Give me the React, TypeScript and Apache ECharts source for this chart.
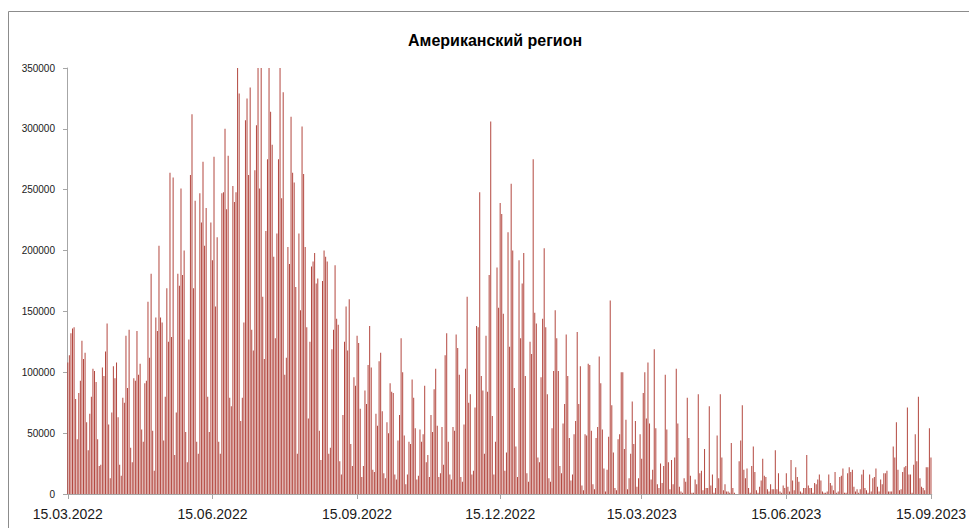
import React, { useEffect, useRef } from "react";
import * as echarts from "echarts";

const TITLE = "Американский регион";
const START_DATE = "2022-03-15";
const Y_TICKS = [0, 50000, 100000, 150000, 200000, 250000, 300000, 350000];
const TICK_LABELS = ["15.03.2022", "15.06.2022", "15.09.2022", "15.12.2022", "15.03.2023", "15.06.2023", "15.09.2023"];

// daily values, in thousands
const MAR_MAY_2022 = [
  108, 114, 132, 136, 137, 78, 45, 83, 93, 126, 111, 116, 59, 36, 66, 80, 103, 101, 92, 45, 23, 24, 104, 97, 117, 140, 57, 13, 67, 105,
  95, 108, 63, 24, 15, 79, 75, 130, 87, 135, 38, 26, 95, 93, 134, 98, 107, 53, 43, 91, 93, 158, 112, 181, 52, 19, 145, 134, 204, 145,
  141, 44, 80, 169, 125,
];
const MAY_JUL_2022 = [
  264, 129, 260, 32, 67, 181, 171, 251, 180, 200, 51, 26, 127, 262, 312, 169, 241, 43, 33, 247, 223, 273, 204, 235, 80, 51, 223, 192, 277, 154,
  211, 43, 33, 247, 248, 300, 234, 278, 79, 72, 253, 240, 248, 350, 329, 60, 79, 141, 307, 325, 262, 334, 135, 118, 266, 303, 350, 251, 350, 162,
  111, 216, 275, 350, 314, 287, 195,
];
const JUL_SEP_2022 = [
  128, 214, 275, 350, 243, 330, 98, 112, 203, 189, 310, 264, 256, 170, 33, 214, 151, 302, 263, 203, 137, 62, 125, 187, 191, 198, 173, 177, 52, 28,
  175, 200, 195, 191, 33, 38, 119, 135, 188, 144, 139, 27, 16, 65, 125, 154, 118, 160, 41, 23, 96, 89, 130, 124, 70, 14, 23, 85, 74, 106,
  138, 104, 20, 18, 66, 56, 109,
];
const SEP_NOV_2022 = [
  116, 68, 17, 13, 59, 50, 91, 84, 83, 16, 12, 44, 65, 128, 100, 48, 8, 16, 43, 41, 94, 79, 54, 12, 15, 53, 43, 49, 89, 26,
  32, 14, 65, 51, 86, 103, 56, 14, 17, 55, 24, 114, 132, 43, 16, 12, 55, 52, 131, 120, 98, 14, 10, 57, 103, 162, 75, 82, 16, 19,
  71, 138, 137, 248, 97, 85,
];
const NOV_2022_FEB_2023 = [
  33, 130, 84, 180, 306, 64, 16, 43, 186, 153, 239, 230, 148, 19, 34, 215, 121, 255, 200, 87, 39, 14, 192, 128, 173, 198, 97, 17, 10, 125,
  115, 275, 149, 140, 30, 26, 96, 144, 202, 137, 82, 13, 10, 54, 101, 151, 128, 101, 23, 17, 58, 74, 131, 97, 46, 11, 16, 49, 60, 133,
  74, 105, 7, 3, 49, 48, 107,
];
const FEB_APR_2023 = [
  106, 52, 8, 4, 46, 55, 113, 91, 53, 21, 2, 20, 47, 159, 73, 34, 5, 3, 45, 49, 100, 100, 37, 61, 4, 13, 33, 76, 41, 60,
  6, 13, 49, 29, 83, 100, 62, 108, 58, 12, 20, 119, 54, 8, 5, 25, 9, 23, 98, 53, 26, 4, 28, 8, 30, 103, 58, 6, 2, 1,
  13, 10, 79, 46,
];
const APR_JUL_2023 = [
  15, 1, 1, 12, 8, 82, 17, 19, 3, 37, 5, 5, 72, 7, 16, 1, 5, 48, 13, 82, 30, 3, 8, 2, 2, 1, 42, 5, 1, 0,
  0, 27, 44, 73, 20, 13, 21, 5, 1, 23, 39, 18, 3, 1, 6, 11, 29, 15, 14, 4, 2, 8, 4, 4, 36, 4, 17, 2, 1, 7,
  5, 17, 6, 2, 28, 11, 3, 22, 14, 10, 2, 1, 5, 5, 32, 7, 5, 5, 1, 9, 8, 12,
];
const JUL_SEP_2023 = [
  16, 11, 2, 1, 1, 2, 16, 9, 7, 3, 18, 1, 2, 14, 15, 21, 1, 1, 17, 22, 18, 20, 6, 2, 4, 1, 4, 16, 20, 5,
  3, 1, 16, 2, 13, 14, 21, 6, 2, 12, 8, 17, 17, 19, 2, 2, 2, 39, 30, 59, 20, 3, 4, 18, 22, 23, 71, 16, 16, 1,
  24, 49, 27, 80, 13, 6, 5, 3, 22, 22, 54, 30,
];

const VALUES_K = [
  ...MAR_MAY_2022,
  ...MAY_JUL_2022,
  ...JUL_SEP_2022,
  ...SEP_NOV_2022,
  ...NOV_2022_FEB_2023,
  ...FEB_APR_2023,
  ...APR_JUL_2023,
  ...JUL_SEP_2023,
];

function pad(n: number) {
  return n < 10 ? "0" + n : String(n);
}

function buildDates(count: number): string[] {
  const out: string[] = [];
  const d = new Date(START_DATE + "T00:00:00Z");
  for (let i = 0; i < count; i++) {
    out.push(pad(d.getUTCDate()) + "." + pad(d.getUTCMonth() + 1) + "." + d.getUTCFullYear());
    d.setUTCDate(d.getUTCDate() + 1);
  }
  return out;
}

export default function App() {
  const ref = useRef<HTMLDivElement>(null);

  useEffect(() => {
    if (!ref.current) return;
    const chart = echarts.init(ref.current, undefined, { renderer: "svg" });
    const dates = buildDates(VALUES_K.length);
    const values = VALUES_K.map((v) => v * 1000);
    const isTick = (i: number) => TICK_LABELS.indexOf(dates[i]) >= 0;

    chart.setOption({
      animation: false,
      backgroundColor: "#ffffff",
      title: {
        text: TITLE,
        left: 403,
        top: 27,
        textStyle: { fontFamily: "Liberation Sans", fontSize: 16, fontWeight: "bold", color: "#000" },
      },
      graphic: [
        {
          type: "rect",
          shape: { x: 8.5, y: 11.5, width: 1000, height: 600 },
          style: { fill: "none", stroke: "#8c8c8c", lineWidth: 1 },
          silent: true,
        },
      ],
      grid: { left: 67, right: 37, top: 68, bottom: 34, containLabel: false },
      xAxis: {
        type: "category",
        data: dates,
        boundaryGap: true,
        axisLine: { show: true, lineStyle: { color: "#a6a6a6", width: 1 } },
        axisTick: {
          show: true,
          alignWithLabel: true,
          interval: (i: number) => isTick(i),
          length: 5,
          lineStyle: { color: "#a6a6a6" },
        },
        axisLabel: {
          interval: (i: number) => isTick(i),
          fontFamily: "Liberation Sans",
          fontSize: 14,
          color: "#1a1a1a",
          margin: 13,
          hideOverlap: false,
        },
        splitLine: { show: false },
      },
      yAxis: {
        type: "value",
        min: 0,
        max: 350000,
        interval: 50000,
        axisLine: { show: true, lineStyle: { color: "#a6a6a6", width: 1 } },
        axisTick: { show: true, length: 4, lineStyle: { color: "#a6a6a6" } },
        axisLabel: {
          fontFamily: "Liberation Sans",
          fontSize: 10,
          color: "#1a1a1a",
          margin: 12,
          formatter: (v: number) => (Y_TICKS.indexOf(v) >= 0 ? String(v) : ""),
        },
        splitLine: { show: false },
      },
      series: [
        {
          type: "bar",
          data: values,
          barWidth: 1,
          itemStyle: { color: "#b3473f" },
          clip: true,
        },
      ],
    });
    return () => chart.dispose();
  }, []);

  return (
    <div
      ref={ref}
      style={{ position: "fixed", left: 0, top: 0, width: 969, height: 528, background: "#fff" }}
    />
  );
}
